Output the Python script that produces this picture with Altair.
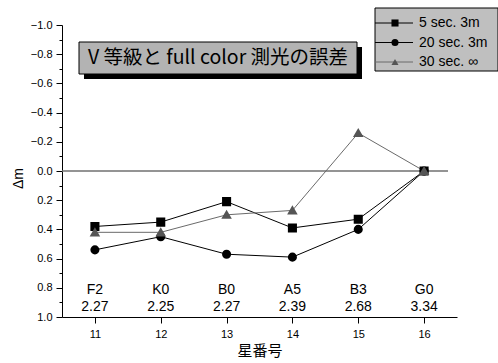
import altair as alt
import pandas as pd

# ---- data ----
stars = [11, 12, 13, 14, 15, 16]
dm_5sec = [0.38, 0.35, 0.21, 0.39, 0.33, 0.0]
dm_20sec = [0.54, 0.45, 0.57, 0.59, 0.40, 0.0]
dm_30sec = [0.42, 0.42, 0.30, 0.27, -0.26, 0.0]
series_names = ["5 sec. 3m", "20 sec. 3m", "30 sec. ∞"]
spectral = ["F2", "K0", "B0", "A5", "B3", "G0"]
colour_idx = ["2.27", "2.25", "2.27", "2.39", "2.68", "3.34"]
title_text = "V 等級と full color 測光の誤差"
y_ticks = [round(-1 + 0.1 * i, 1) for i in range(21)]
x_ticks = stars

shapes = ["square", "circle", "triangle-up"]
point_colors = ["#000000", "#000000", "#555555"]
line_colors = ["#000000", "#000000", "#6a6a6a"]

FONT = "Liberation Sans, Arial, sans-serif"
JFONT = "Noto Sans CJK JP, Liberation Sans, sans-serif"

rows = []
for name, vals in zip(series_names, [dm_5sec, dm_20sec, dm_30sec]):
    for s, v in zip(stars, vals):
        rows.append({"star": s, "dm": v, "series": name})
df = pd.DataFrame(rows)

xs = alt.Scale(domain=[10.5, 16.5], nice=False, zero=False)
ys = alt.Scale(domain=[-1, 1], reverse=True, nice=False, zero=False)

x_axis = alt.Axis(values=x_ticks, format="d", grid=False, tickSize=6, labelFontSize=11,
                  labelPadding=5, labelFont=FONT, titleFont=JFONT,
                  titleFontSize=15, titleFontWeight="normal", titlePadding=4,
                  labelOverlap=False,
                  domainColor="black", tickColor="black", labelColor="black",
                  titleColor="black")
y_axis = alt.Axis(values=y_ticks, grid=False,
                  tickSize=alt.condition("round(datum.value*10) % 2 == 0",
                                         alt.value(6), alt.value(3)),
                  labelExpr="round(datum.value*10) % 2 == 0 ? format(datum.value, '.1f') : ''",
                  labelOverlap=False, labelBound=False,
                  labelFontSize=11, labelFont=FONT, labelPadding=4,
                  titleFont=FONT, titleFontSize=14, titleFontWeight="normal",
                  titleAngle=-90, titleX=-44, titleY=153, titleBaseline="middle",
                  titleAlign="center",
                  domainColor="black", tickColor="black", labelColor="black",
                  titleColor="black")


def X(field="star:Q"):
    return alt.X(field, scale=xs, title="星番号", axis=x_axis)


def Y(field="dm:Q"):
    return alt.Y(field, scale=ys, title="Δm", axis=y_axis)


color_scale = alt.Scale(domain=series_names, range=line_colors)

base = alt.Chart(df)

zero_line = alt.Chart(pd.DataFrame({"dm": [0.0]})).mark_rule(
    color="#707070", strokeWidth=1.5).encode(y=Y(), x=alt.value(0), x2=alt.value(386))

lines = base.mark_line(strokeWidth=1).encode(
    x=X(), y=Y(),
    color=alt.Color("series:N", scale=color_scale, legend=None),
    order="star:Q")

points = base.mark_point(filled=True, size=50, opacity=1).encode(
    x=X(), y=Y(),
    shape=alt.Shape("series:N", scale=alt.Scale(domain=series_names, range=shapes), legend=None),
    fill=alt.Fill("series:N", scale=alt.Scale(domain=series_names, range=point_colors), legend=None),
    stroke=alt.Stroke("series:N", scale=alt.Scale(domain=series_names, range=point_colors), legend=None))

ann_df = pd.DataFrame({"star": stars, "sp": spectral, "ci": colour_idx})
ann_sp = alt.Chart(ann_df).mark_text(fontSize=14, font=FONT, color="black", baseline="middle").encode(
    x=X(), y=alt.value(265), text="sp:N")
ann_ci = alt.Chart(ann_df).mark_text(fontSize=14, font=FONT, color="black", baseline="middle").encode(
    x=X(), y=alt.value(282), text="ci:N")

# title box with drop shadow
tb = pd.DataFrame({"t": [title_text]})
shadow = alt.Chart(tb).mark_rect(fill="black").encode(
    x=alt.value(22), x2=alt.value(300), y=alt.value(22), y2=alt.value(54))
box = alt.Chart(tb).mark_rect(fill="#b3b3b3", stroke="black", strokeWidth=1).encode(
    x=alt.value(17), x2=alt.value(295), y=alt.value(17), y2=alt.value(49))
box_text = alt.Chart(tb).mark_text(fontSize=19.5, font=JFONT, color="black", baseline="middle", align="center").encode(
    x=alt.value(156), y=alt.value(33), text="t:N")

# custom legend
leg_layers = [alt.Chart(pd.DataFrame({"a": [0]})).mark_rect(fill="#bfbfbf", stroke="black", strokeWidth=1).encode(
    x=alt.value(313), x2=alt.value(436), y=alt.value(-17), y2=alt.value(46))]
for i, name in enumerate(series_names):
    yy = -2 + i * 19.5
    d = pd.DataFrame({"series": [name]})
    leg_layers.append(alt.Chart(d).mark_rule(color=line_colors[i], strokeWidth=1).encode(
        x=alt.value(313), x2=alt.value(351), y=alt.value(yy)))
    leg_layers.append(alt.Chart(d).mark_point(filled=True, size=50, shape=shapes[i], color=point_colors[i], opacity=1).encode(
        x=alt.value(333), y=alt.value(yy)))
    leg_layers.append(alt.Chart(d).mark_text(fontSize=14, font=FONT, color="black", align="left", baseline="middle").encode(
        x=alt.value(357), y=alt.value(yy), text="series:N"))

chart = alt.layer(zero_line, lines, points, ann_sp, ann_ci, shadow, box, box_text, *leg_layers).properties(
    width=395, height=292,
    autosize=alt.AutoSizeParams(type="none"),
    padding={"left": 62, "top": 25, "right": 41, "bottom": 46},
    background="white",
).configure_view(stroke=None).configure_axis(domainWidth=1, tickWidth=1)

chart.save("out.html", embed_options={"renderer": "svg", "actions": False})
